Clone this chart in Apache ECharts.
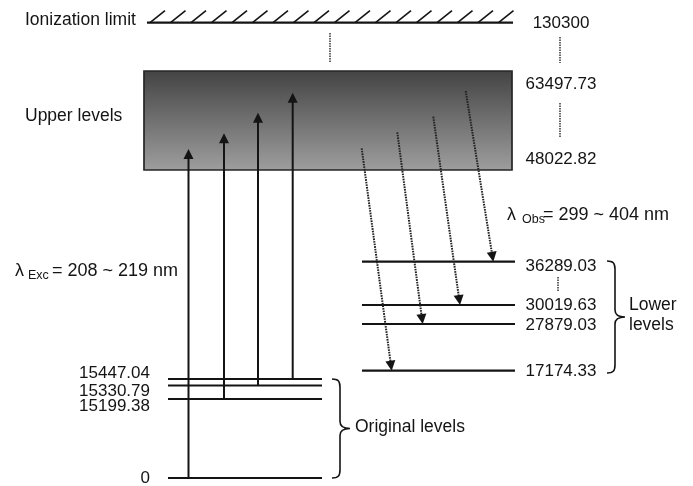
<!DOCTYPE html>
<html><head><meta charset="utf-8">
<script src="https://cdn.jsdelivr.net/npm/echarts@6/dist/echarts.min.js"></script>
<style>html,body{margin:0;padding:0;background:#fff}#c{width:693px;height:486px}</style>
</head><body><div id="c"></div>
<script>
// ---------------- data (energies in cm^-1, schematic heights in diagram units, ground = 0) ----------------
const originalLevelLabels = ['0', '15199.38', '15330.79', '15447.04'];
const originalLevelHeights = [0, 79, 92.5, 99];
const lowerLevelLabels = ['17174.33', '27879.03', '30019.63', '36289.03'];
const lowerLevelHeights = [107.3, 154, 173, 216.3];
const upperBandLabels = ['48022.82', '63497.73'];
const upperBandHeights = [308, 407];
const ionizationLabel = '130300';
const ionizationHeight = 455.3;
const excitationFrom = [0, 1, 2, 3];          // index into original levels
const excitationTopHeights = [329, 344.7, 365.3, 385.3];
const emissionTo = [0, 1, 2, 3];              // index into lower levels
const emissionTopHeights = [329.7, 345.7, 361.3, 387];
const excText = ['λ', 'Exc', '= 208 ~ 219 nm'];
const obsText = ['λ', 'Obs', '= 299 ~ 404 nm'];
const titles = { ion: 'Ionization limit', upper: 'Upper levels', original: 'Original levels', lower: ['Lower', 'levels'] };

// ---------------- layout (diagram x units) ----------------
const X = { origL: 168, origR: 322, lowL: 362, lowR: 515, ionL: 147, ionR: 513, boxL: 144, boxR: 512, leftLab: 150, rightLab: 561 };
const excitationX = [188.5, 224, 258, 292.7];
const emissionStartX = [361.7, 397.3, 433.3, 465.7];
const emissionEndX = [391.7, 422.7, 460, 493.3];
const originalLabelY = [-0.3, 71.3, 86.3, 104.5];
const lowerLabelY = [107, 153, 173, 211.3];
const upperBandLabelY = [318.7, 394];
const ionLabelY = 454.7;

const FONT = "'Liberation Sans', Arial, Helvetica, sans-serif";
const INK = '#141414';
const FS = 17;      // numbers
const FS_T = 17.5;  // titles

// ---------------- builders ----------------
const levelSegments = [];
originalLevelHeights.forEach(h => levelSegments.push([X.origL, h, X.origR, h]));
lowerLevelHeights.forEach(h => levelSegments.push([X.lowL, h, X.lowR, h]));
levelSegments.push([X.ionL, ionizationHeight, X.ionR, ionizationHeight]);

const excArrows = excitationFrom.map((li, i) => [excitationX[i], originalLevelHeights[li], excitationX[i], excitationTopHeights[i]]);
const emArrows = emissionTo.map((li, i) => [emissionStartX[i], emissionTopHeights[i], emissionEndX[i], lowerLevelHeights[li]]);

const connectors = [[330, 445, 416], [560, 441, 415], [560, 375, 340], [558, 201, 187]];
const braces = [[340, originalLevelHeights[3], originalLevelHeights[0]], [615, lowerLevelHeights[3] + 0.7, lowerLevelHeights[0] - 2.3]];

const texts = [];
originalLevelLabels.forEach((t, i) => texts.push({ x: X.leftLab, y: originalLabelY[i], text: t, align: 'right' }));
lowerLevelLabels.forEach((t, i) => texts.push({ x: X.rightLab, y: lowerLabelY[i], text: t, align: 'center' }));
upperBandLabels.forEach((t, i) => texts.push({ x: X.rightLab, y: upperBandLabelY[i], text: t, align: 'center' }));
texts.push({ x: X.rightLab, y: ionLabelY, text: ionizationLabel, align: 'center' });
texts.push({ x: 25, y: 458, text: titles.ion, align: 'left', size: FS_T });
texts.push({ x: 25, y: 362, text: titles.upper, align: 'left', size: FS_T });
texts.push({ x: 355, y: 51, text: titles.original, align: 'left', size: FS_T });
texts.push({ x: 629, y: 173, text: titles.lower[0], align: 'left', size: FS_T });
texts.push({ x: 629, y: 153, text: titles.lower[1], align: 'left', size: FS_T });
// lambda labels: symbol, subscript, rest
function lambdaLabel(parts, x, y, subDx, restDx) {
  texts.push({ x: x, y: y, text: parts[0], align: 'left', size: 18 });
  texts.push({ x: x + subDx, y: y - 4.5, text: parts[1], align: 'left', size: 12.5 });
  texts.push({ x: x + restDx, y: y, text: parts[2], align: 'left', size: 18 });
}
lambdaLabel(excText, 15, 207, 13, 37);
lambdaLabel(obsText, 507, 262.5, 15, 36);

function arrowRender(dashed) {
  return function (params, api) {
    const p1 = api.coord([api.value(0), api.value(1)]);
    const p2 = api.coord([api.value(2), api.value(3)]);
    const dx = p2[0] - p1[0], dy = p2[1] - p1[1];
    const L = Math.hypot(dx, dy), ux = dx / L, uy = dy / L;
    const hl = 10, hw = 5;
    const bx = p2[0] - ux * hl, by = p2[1] - uy * hl;
    return { type: 'group', children: [
      { type: 'line', shape: { x1: p1[0], y1: p1[1], x2: bx + ux, y2: by + uy },
        style: { stroke: dashed ? '#222' : INK, lineWidth: 2, lineDash: dashed ? [1.6, 1] : null } },
      { type: 'polygon', shape: { points: [[p2[0], p2[1]], [bx - uy * hw, by + ux * hw], [bx + uy * hw, by - ux * hw]] },
        style: { fill: INK } }
    ] };
  };
}

const chart = echarts.init(document.getElementById('c'), null, { renderer: 'canvas' });
chart.setOption({
  animation: false,
  backgroundColor: '#fff',
  grid: { left: 0, right: 0, top: 0, bottom: 0, containLabel: false },
  xAxis: { type: 'value', min: 0, max: 693, show: false },
  yAxis: { type: 'value', min: -8, max: 478, show: false },
  series: [
    { // upper band
      type: 'custom', z: 1,
      data: [[X.boxL, upperBandHeights[1], X.boxR, upperBandHeights[0]]],
      renderItem: function (params, api) {
        const a = api.coord([api.value(0), api.value(1)]);
        const b = api.coord([api.value(2), api.value(3)]);
        return { type: 'rect', shape: { x: a[0], y: a[1], width: b[0] - a[0], height: b[1] - a[1] },
          style: { fill: new echarts.graphic.LinearGradient(0, 0, 0, 1, [{ offset: 0, color: '#434343' }, { offset: 1, color: '#9e9e9e' }]),
            stroke: '#262626', lineWidth: 1.7 } };
      }
    },
    { // level lines and ionization line
      type: 'custom', z: 2,
      data: levelSegments,
      renderItem: function (params, api) {
        const a = api.coord([api.value(0), api.value(1)]);
        const b = api.coord([api.value(2), api.value(3)]);
        return { type: 'line', shape: { x1: a[0], y1: a[1], x2: b[0], y2: b[1] }, style: { stroke: INK, lineWidth: 2.2 } };
      }
    },
    { // hatching above the ionization limit
      type: 'custom', z: 2,
      data: [[X.ionL, ionizationHeight, X.ionR]],
      renderItem: function (params, api) {
        const a = api.coord([api.value(0), api.value(1)]);
        const b = api.coord([api.value(2), api.value(1)]);
        const kids = [];
        for (let x = a[0] + 3; x <= b[0] - 14; x += 20.5) {
          kids.push({ type: 'line', shape: { x1: x, y1: a[1], x2: x + 15, y2: a[1] - 12 }, style: { stroke: INK, lineWidth: 1.7 } });
        }
        return { type: 'group', children: kids };
      }
    },
    { type: 'custom', z: 3, data: excArrows, renderItem: arrowRender(false) },
    { type: 'custom', z: 3, data: emArrows, renderItem: arrowRender(true) },
    { // dotted connectors
      type: 'custom', z: 2,
      data: connectors,
      renderItem: function (params, api) {
        const a = api.coord([api.value(0), api.value(1)]);
        const b = api.coord([api.value(0), api.value(2)]);
        return { type: 'line', shape: { x1: a[0], y1: a[1], x2: b[0], y2: b[1] }, style: { stroke: '#333', lineWidth: 1.5, lineDash: [1.5, 1] } };
      }
    },
    { // braces
      type: 'custom', z: 2,
      data: braces,
      renderItem: function (params, api) {
        const t = api.coord([api.value(0), api.value(1)]);
        const b = api.coord([api.value(0), api.value(2)]);
        const xm = t[0], yt = t[1], yb = b[1], ym = (yt + yb) / 2;
        const d = `M${xm - 8} ${yt} C${xm - 2} ${yt} ${xm} ${yt + 2} ${xm} ${yt + 8} L${xm} ${ym - 7} C${xm} ${ym - 2} ${xm + 4} ${ym} ${xm + 10} ${ym} ` +
          `C${xm + 4} ${ym} ${xm} ${ym + 2} ${xm} ${ym + 7} L${xm} ${yb - 8} C${xm} ${yb - 2} ${xm - 2} ${yb} ${xm - 8} ${yb}`;
        return { type: 'path', shape: { pathData: d }, style: { stroke: INK, lineWidth: 1.6, fill: null } };
      }
    },
    { // texts
      type: 'custom', z: 4,
      data: texts.map((t, i) => [t.x, t.y, i]),
      renderItem: function (params, api) {
        const t = texts[api.value(2)];
        const p = api.coord([api.value(0), api.value(1)]);
        return { type: 'text', x: p[0], y: p[1],
          style: { text: t.text, fill: INK, font: `${t.size || FS}px ${FONT}`, textAlign: t.align, textVerticalAlign: 'middle' } };
      }
    }
  ]
});
</script></body></html>
